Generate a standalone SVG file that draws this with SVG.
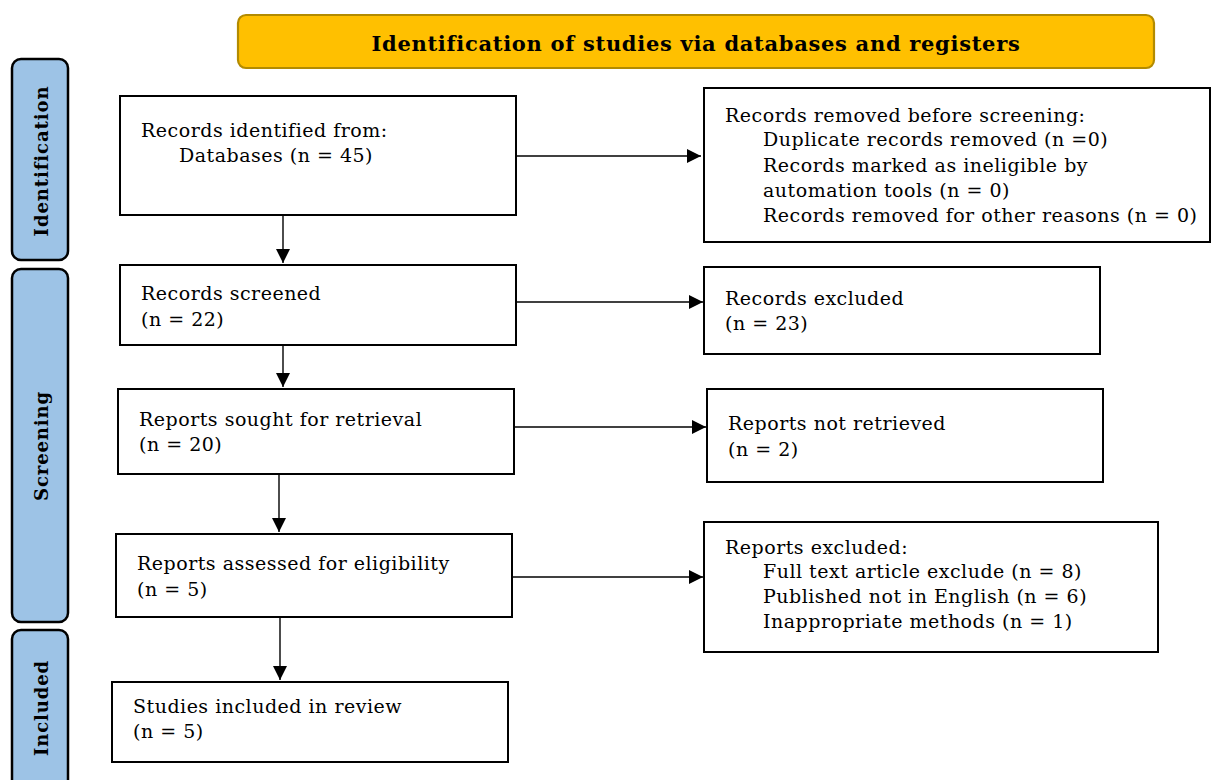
<svg xmlns="http://www.w3.org/2000/svg" width="1212" height="780" viewBox="0 0 1212 780">
<defs>
<marker id="ah" viewBox="0 0 10 10" refX="10" refY="5" markerWidth="14" markerHeight="14" markerUnits="userSpaceOnUse" orient="auto">
<path d="M0,0 L10,5 L0,10 z" fill="#000"/>
</marker>
<style>
.box{fill:#fff;stroke:#000;stroke-width:2}
.side{fill:#9DC3E6;stroke:#000;stroke-width:2.5}
.t{font-family:"DejaVu Serif","Liberation Serif",serif;font-size:19px;letter-spacing:0.5px;fill:#000}
.sl{font-family:"DejaVu Serif","Liberation Serif",serif;font-size:18px;letter-spacing:0.9px;font-weight:bold;fill:#000}
.hd{font-family:"DejaVu Serif","Liberation Serif",serif;font-size:21px;letter-spacing:0.7px;font-weight:bold;fill:#000}
.c{stroke:#000;stroke-width:1.4;fill:none;marker-end:url(#ah)}
</style>
</defs>
<rect width="1212" height="780" fill="#fff"/>
<g id="header">
<rect x="238" y="15" width="916" height="53" rx="8" fill="#FFC000" stroke="#B38B00" stroke-width="2.2"/>
<text class="hd" x="696" y="51" text-anchor="middle">Identification of studies via databases and registers</text>
</g>
<g id="side-identification">
<rect class="side" x="12" y="59" width="56" height="201" rx="9"/>
<text class="sl" transform="translate(48,161) rotate(-90)" text-anchor="middle">Identification</text>
</g>
<g id="side-screening">
<rect class="side" x="12" y="269" width="56" height="353" rx="9"/>
<text class="sl" transform="translate(48,446) rotate(-90)" text-anchor="middle">Screening</text>
</g>
<g id="side-included">
<rect class="side" x="12" y="630" width="56" height="170" rx="9"/>
<text class="sl" transform="translate(48,708) rotate(-90)" text-anchor="middle">Included</text>
</g>
<g id="n1">
<rect class="box" x="120" y="96" width="396" height="119"/>
<text class="t" x="141" y="137">Records identified from:</text>
<text class="t" x="179" y="162">Databases (n = 45)</text>
</g>
<g id="n2">
<rect class="box" x="120" y="265" width="396" height="80"/>
<text class="t" x="141" y="300">Records screened</text>
<text class="t" x="141" y="326">(n = 22)</text>
</g>
<g id="n3">
<rect class="box" x="118" y="389" width="396" height="85"/>
<text class="t" x="139" y="426">Reports sought for retrieval</text>
<text class="t" x="139" y="451">(n = 20)</text>
</g>
<g id="n4">
<rect class="box" x="116" y="534" width="396" height="83"/>
<text class="t" x="137" y="570">Reports assessed for eligibility</text>
<text class="t" x="137" y="596">(n = 5)</text>
</g>
<g id="n5">
<rect class="box" x="112" y="682" width="396" height="80"/>
<text class="t" x="133" y="713">Studies included in review</text>
<text class="t" x="133" y="738">(n = 5)</text>
</g>
<g id="r1">
<rect class="box" x="704" y="88" width="506" height="154"/>
<text class="t" x="725" y="122">Records removed before screening:</text>
<text class="t" x="763" y="146">Duplicate records removed (n =0)</text>
<text class="t" x="763" y="172">Records marked as ineligible by</text>
<text class="t" x="763" y="197">automation tools (n = 0)</text>
<text class="t" x="763" y="222">Records removed for other reasons (n = 0)</text>
</g>
<g id="r2">
<rect class="box" x="704" y="267" width="396" height="87"/>
<text class="t" x="725" y="305">Records excluded</text>
<text class="t" x="725" y="330">(n = 23)</text>
</g>
<g id="r3">
<rect class="box" x="707" y="389" width="396" height="93"/>
<text class="t" x="728" y="430">Reports not retrieved</text>
<text class="t" x="728" y="456">(n = 2)</text>
</g>
<g id="r4">
<rect class="box" x="704" y="522" width="454" height="130"/>
<text class="t" x="725" y="554">Reports excluded:</text>
<text class="t" x="763" y="578">Full text article exclude (n = 8)</text>
<text class="t" x="763" y="603">Published not in English (n = 6)</text>
<text class="t" x="763" y="628">Inappropriate methods (n = 1)</text>
</g>
<g id="connectors">
<line class="c" x1="517" y1="156" x2="701" y2="156"/>
<line class="c" x1="517" y1="302" x2="703" y2="302"/>
<line class="c" x1="515" y1="427" x2="706" y2="427"/>
<line class="c" x1="513" y1="577" x2="703" y2="577"/>
<line class="c" x1="283" y1="216" x2="283" y2="263"/>
<line class="c" x1="283" y1="346" x2="283" y2="387"/>
<line class="c" x1="279" y1="475" x2="279" y2="532"/>
<line class="c" x1="280" y1="618" x2="280" y2="680"/>
</g>
</svg>
